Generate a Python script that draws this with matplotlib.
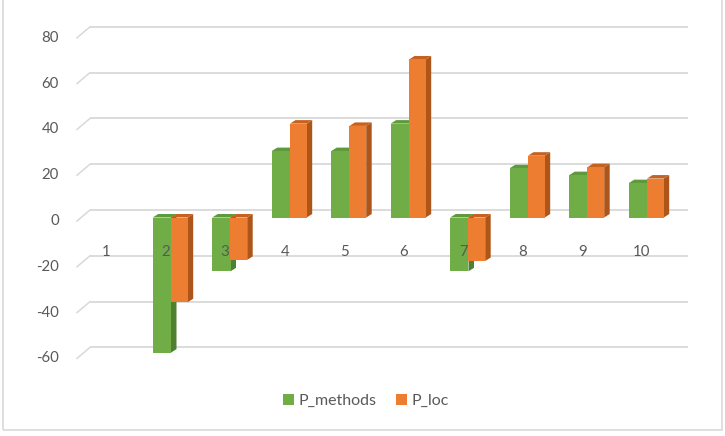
import numpy as np
import matplotlib
matplotlib.use("Agg")
import matplotlib.pyplot as plt
from matplotlib.patches import Polygon, Patch, Rectangle

# ---- data ----
categories = ['1', '2', '3', '4', '5', '6', '7', '8', '9', '10']
p_methods = [0, -59, -23.5, 29, 29, 41, -23.5, 21.5, 18.5, 15]
p_loc = [0, -37, -18.5, 41, 40, 69, -19, 27, 22, 17]
y_ticks = [-60, -40, -20, 0, 20, 40, 60, 80]
series_names = ['P_methods', 'P_loc']

# ---- layout (pixels) ----
W, H = 725, 436
PX_CAT = 59.5          # px per category
PX_UNIT = 2.29         # px per value unit
X1 = 111.5             # px of category 1 centre
Y0 = 217.5             # px of value 0 (front plane)

def cx(px):
    return 1 + (px - X1) / PX_CAT

def vy(py):
    return (Y0 - py) / PX_UNIT

fig = plt.figure(figsize=(W / 100, H / 100), dpi=100)
ax = fig.add_axes([0, 0, 1, 1])
ax.set_xlim(cx(0), cx(W))
ax.set_ylim(vy(H), vy(0))
ax.axis('off')

font = 'Lato'
tcol = '#595959'
gcol = '#D9D9D9'

# back-wall offset / floor depth
back_dy = 7.5 / PX_UNIT
floor_dy = 11 / PX_UNIT
gx0, gx1, fx0 = cx(90), cx(688), cx(77)

for t in y_ticks:
    yb = t + back_dy
    ax.plot([gx0, gx1], [yb, yb], color=gcol, lw=1.3, zorder=1, solid_capstyle='butt')
    ax.plot([gx0, fx0], [yb, yb - floor_dy], color=gcol, lw=1.1, zorder=1)
    ax.text(cx(59), yb - floor_dy, str(t), ha='right', va='center',
            fontsize=10.8, color=tcol, family=font, zorder=1)

# bars with fake 3D depth
ddx = 5.5 / PX_CAT
ddy = 3.5 / PX_UNIT
w_g, w_o = 18.3 / PX_CAT, 16.7 / PX_CAT
x = np.arange(1, len(categories) + 1)

styles = [
    (p_methods, x - w_g / 2, w_g, '#70AD47', '#4E8030', '#5E9A3B'),
    (p_loc, x + w_o / 2, w_o, '#ED7D31', '#AE5519', '#C6621F'),
]

z = 3
for vals, xs, w, front, side, top in styles:
    for xc, v in zip(xs, vals):
        if v == 0:
            continue
        x0, x1 = xc - w / 2, xc + w / 2
        hi, lo = max(v, 0), min(v, 0)
        # side
        ax.add_patch(Polygon([(x1, lo), (x1, hi), (x1 + ddx, hi + ddy), (x1 + ddx, lo + ddy)],
                             closed=True, facecolor=side, edgecolor='none', zorder=z))
        # top
        ax.add_patch(Polygon([(x0, hi), (x1, hi), (x1 + ddx, hi + ddy), (x0 + ddx, hi + ddy)],
                             closed=True, facecolor=top, edgecolor='none', zorder=z))
        # front
        ax.bar(xc, v, width=w, color=front, edgecolor='none', zorder=z + 0.5)
    z += 1

# category labels
for xi, lab in zip(x, categories):
    ax.text(xi - 5.3 / PX_CAT, vy(251.5), lab, ha='center', va='center',
            fontsize=10.8, color=tcol, family=font, zorder=10)

# legend
handles = [Patch(facecolor='#70AD47', edgecolor='none'), Patch(facecolor='#ED7D31', edgecolor='none')]
leg = fig.legend(handles, series_names, loc='center', bbox_to_anchor=(366 / W, 1 - 401 / H),
                 ncol=2, frameon=False, handlelength=0.7, handleheight=0.7,
                 handletextpad=0.3, columnspacing=1.2,
                 prop={'family': font, 'size': 11.5})
for t in leg.get_texts():
    t.set_color(tcol)

# outer frame
fig.patches.append(Rectangle((3 / W, 1 - 430 / H), (721.5 - 3) / W, 430 / H + 0.05,
                             transform=fig.transFigure, fill=False, edgecolor='#D9D9D9', lw=1.2))

fig.savefig('out.png', dpi=100)
